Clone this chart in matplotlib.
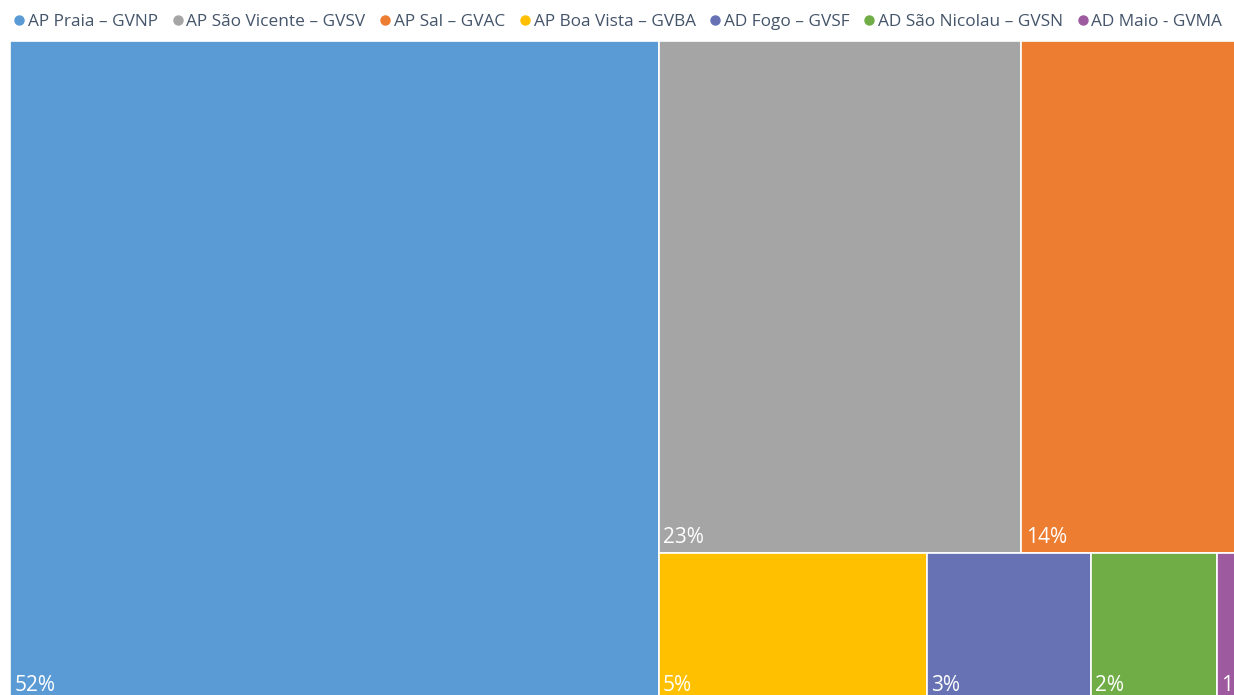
import matplotlib
matplotlib.use("Agg")
import matplotlib.pyplot as plt
from matplotlib.patches import Rectangle
from matplotlib.lines import Line2D

# ---- data ----
labels = ["AP Praia \u2013 GVNP", "AP S\u00e3o Vicente \u2013 GVSV", "AP Sal \u2013 GVAC",
          "AP Boa Vista \u2013 GVBA", "AD Fogo \u2013 GVSF", "AD S\u00e3o Nicolau \u2013 GVSN",
          "AD Maio - GVMA"]
values = [52.3, 22.7, 14.3, 4.85, 2.97, 2.28, 0.60]
colors = ["#5B9BD5", "#A5A5A5", "#ED7D31", "#FFC000", "#6672B4", "#70AD47", "#9E5A9E"]
# layout structure (indices): first column, then top row and bottom row of the rest
first_col = [0]
top_row = [1, 2]
bottom_row = [3, 4, 5, 6]

plt.rcParams['font.family'] = ['Open Sans', 'DejaVu Sans']

W, H = 1234, 695
fig = plt.figure(figsize=(W / 100, H / 100), dpi=100)
fig.patch.set_facecolor("white")

# axes area extends beyond figure at right and bottom (cropped chart)
left_px, top_px, right_px, bottom_px = 10, 41, 1250, 701
ax = fig.add_axes([left_px / W, (H - bottom_px) / H, (right_px - left_px) / W, (bottom_px - top_px) / H])
ax.set_xlim(0, 1)
ax.set_ylim(0, 1)
ax.axis("off")

total = sum(values)
rects = {}
x = 0.0
for i in first_col:
    w = values[i] / total
    rects[i] = (x, 0.0, w, 1.0)
    x += w
rest_w = 1.0 - x
rest_total = sum(values[i] for i in top_row + bottom_row)
top_h = sum(values[i] for i in top_row) / rest_total
bot_h = 1.0 - top_h
xx = x
s = sum(values[i] for i in top_row)
for i in top_row:
    w = rest_w * values[i] / s
    rects[i] = (xx, bot_h, w, top_h)
    xx += w
xx = x
s = sum(values[i] for i in bottom_row)
for i in bottom_row:
    w = rest_w * values[i] / s
    rects[i] = (xx, 0.0, w, bot_h)
    xx += w

for i in range(len(values)):
    rx, ry, rw, rh = rects[i]
    p = Rectangle((rx, ry), rw, rh, facecolor=colors[i], edgecolor="white", linewidth=1.2, clip_on=False)
    ax.add_patch(p)
    t = ax.annotate(f"{round(values[i] / total * 100):.0f}%", xy=(rx, ry), xytext=(3.2, 3.5),
                    textcoords="offset points", ha="left", va="bottom", color="white",
                    fontsize=15, annotation_clip=False)
    t.set_clip_path(p)

handles = [Line2D([0], [0], marker="o", linestyle="none", markersize=6.5,
                  markerfacecolor=c, markeredgecolor=c) for c in colors]
leg = fig.legend(handles, labels, loc="center", bbox_to_anchor=(0.5, 1 - 22 / H), ncol=7,
                 frameon=False, fontsize=12.4, handletextpad=0.05, columnspacing=0.7,
                 handlelength=0.9, borderaxespad=0.0, borderpad=0.0)
for txt in leg.get_texts():
    txt.set_color("#44546A")

fig.savefig("out.png", dpi=100)
